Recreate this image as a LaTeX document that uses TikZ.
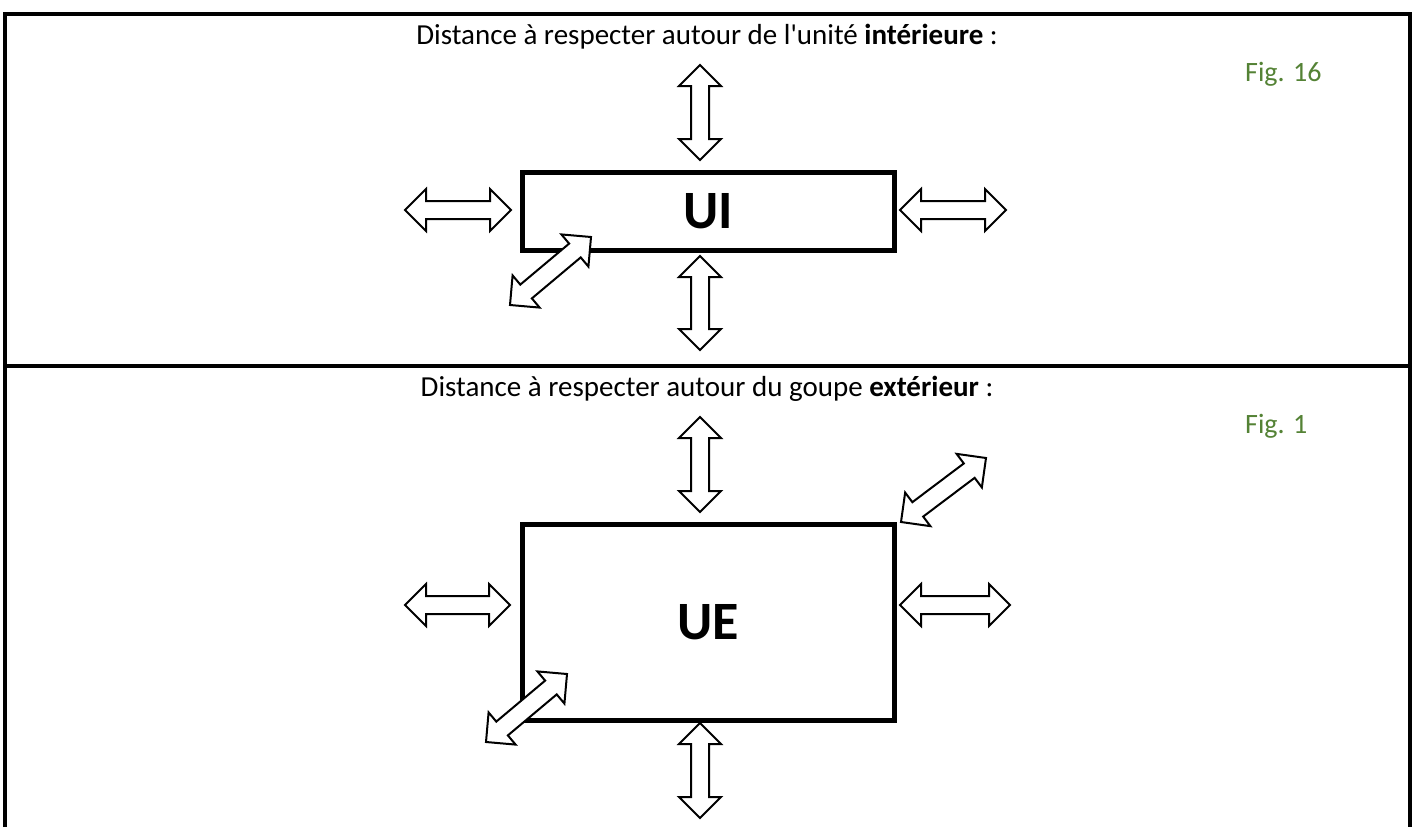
\documentclass[tikz,border=0pt]{standalone}
\usepackage{fontspec}
\setmainfont{Carlito}
\usepackage{tikz}
\usetikzlibrary{calc, positioning}
\usepackage{xcolor}

\definecolor{figgreen}{RGB}{84,130,53}

% sizes of the block arrows (in px)
\newcommand{\hl}{21pt}
\newcommand{\hw}{21pt}
\newcommand{\sw}{9pt}
% double block arrow between two named coordinates
\newcommand{\dblarrow}[2]{%
  \draw[blockarrow] (#1)
    -- ($(#1)!\hl!(#2)!\hw!90:(#2)$)
    -- ($(#1)!\hl!(#2)!\sw!90:(#2)$)
    -- ($(#2)!\hl!(#1)!\sw!-90:(#1)$)
    -- ($(#2)!\hl!(#1)!\hw!-90:(#1)$)
    -- (#2)
    -- ($(#2)!\hl!(#1)!\hw!90:(#1)$)
    -- ($(#2)!\hl!(#1)!\sw!90:(#1)$)
    -- ($(#1)!\hl!(#2)!\sw!-90:(#2)$)
    -- ($(#1)!\hl!(#2)!\hw!-90:(#2)$)
    -- cycle;}

\begin{document}
\begin{tikzpicture}[
        x=1pt, y=-1pt,
        unitbox/.style={draw, line width=5pt, minimum width=372pt, inner sep=0pt,
                        font=\fontsize{54}{60}\selectfont\bfseries},
        blockarrow/.style={draw, line width=2pt, fill=white, line join=miter},
        tableline/.style={line width=3.5pt},
        title/.style={anchor=base, inner sep=0pt, font=\fontsize{29}{34}\selectfont},
        figlabel/.style={anchor=base west, inner sep=0pt, text=figgreen,
                         font=\fontsize{28}{33}\selectfont}
    ]
        \useasboundingbox (0,0) rectangle (1412,827);

        % Table frame
        \draw[tableline] (5,827) -- (5,14) -- (1410,14) -- (1410,827);
        \draw[tableline] (5,366) -- (1410,366);

        % Titles
        \node (title1) [title] at (707,44) {Distance à respecter autour de l\textquotesingle unité \textbf{intérieure} :};
        \node (title2) [title] at (707,396) {Distance à respecter autour du goupe \textbf{extérieur} :};
        \node (fig1) [figlabel] at (1245,81) {Fig. 16};
        \node (fig2) [figlabel] at (1245,433) {Fig. 1};

        % Units
        \node (ui) [unitbox, minimum height=78pt] at (708,211) {UI};
        \node (ue) [unitbox, minimum height=196pt] at (708,622) {UE};

        % Arrow ends, indoor unit
        \coordinate (uiN1) at (700,65);   \coordinate (uiN2) at (700,160);
        \coordinate (uiS1) at (700,256);  \coordinate (uiS2) at (700,350);
        \coordinate (uiW1) at (405,210);  \coordinate (uiW2) at (511,210);
        \coordinate (uiE1) at (900,210);  \coordinate (uiE2) at (1006,210);
        \coordinate (uiD1) at (510,305);  \coordinate (uiD2) at (591,237);

        % Arrow ends, outdoor unit
        \coordinate (ueN1) at (700,417);  \coordinate (ueN2) at (700,512);
        \coordinate (ueS1) at (700,723);  \coordinate (ueS2) at (700,818);
        \coordinate (ueW1) at (405,605);  \coordinate (ueW2) at (510,605);
        \coordinate (ueE1) at (900,605);  \coordinate (ueE2) at (1010,605);
        \coordinate (ueD1) at (901,522);  \coordinate (ueD2) at (986,458);
        \coordinate (ueB1) at (486,742);  \coordinate (ueB2) at (567,674);

        % Arrows
        \foreach \a in {uiN,uiS,uiW,uiE,uiD,ueN,ueS,ueW,ueE,ueD,ueB}
            {\dblarrow{\a1}{\a2}}

    \end{tikzpicture}
\end{document}
